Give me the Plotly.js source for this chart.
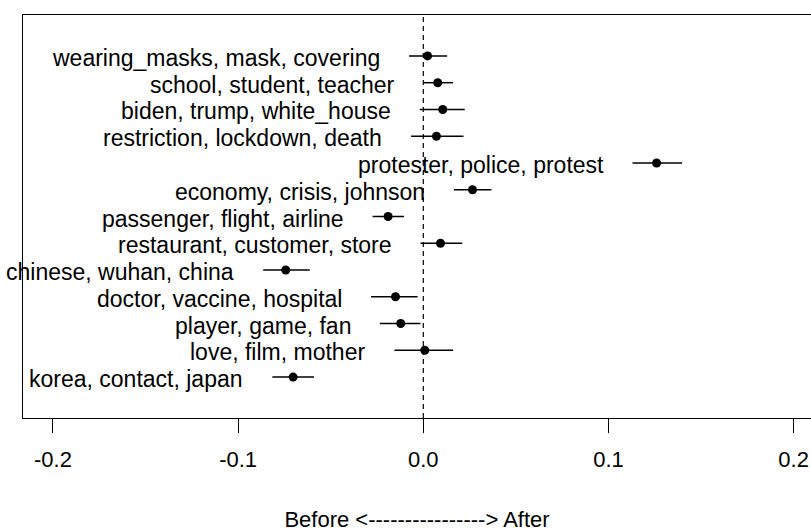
<!DOCTYPE html>
<html>
<head>
<meta charset="utf-8">
<script src="https://cdn.plot.ly/plotly-3.0.1.min.js"></script>
<style>html,body{margin:0;padding:0;background:#fff;}#chart{width:811px;height:532px;}</style>
</head>
<body>
<div id="chart"></div>
<script>
const topics = [
  "wearing_masks, mask, covering",
  "school, student, teacher",
  "biden, trump, white_house",
  "restriction, lockdown, death",
  "protester, police, protest",
  "economy, crisis, johnson",
  "passenger, flight, airline",
  "restaurant, customer, store",
  "chinese, wuhan, china",
  "doctor, vaccine, hospital",
  "player, game, fan",
  "love, film, mother",
  "korea, contact, japan"
];
const estimate = [0.0023, 0.0078, 0.0105, 0.0071, 0.1260, 0.0266, -0.0190, 0.0093, -0.0743, -0.0150, -0.0122, 0.0008, -0.0703];
const ciLower  = [-0.0077, 0.0003, -0.0019, -0.0066, 0.1130, 0.0165, -0.0274, -0.0015, -0.0865, -0.0282, -0.0235, -0.0156, -0.0815];
const ciUpper  = [0.0129, 0.0161, 0.0224, 0.0217, 0.1398, 0.0368, -0.0104, 0.0210, -0.0613, -0.0031, -0.0015, 0.0161, -0.0590];
const tickVals = [-0.2, -0.1, 0.0, 0.1, 0.2];
const tickText = ["-0.2", "-0.1", "0.0", "0.1", "0.2"];
const xLabel = "Before <----------------> After";

const FONT = "Liberation Sans, Arial, sans-serif";

const trace = {
  type: "scatter",
  mode: "markers",
  x: estimate,
  y: topics,
  marker: {color: "#000", size: 9},
  error_x: {
    type: "data",
    symmetric: false,
    array: estimate.map((v, i) => ciUpper[i] - v),
    arrayminus: estimate.map((v, i) => v - ciLower[i]),
    color: "#000",
    thickness: 1.5,
    width: 0
  },
  hoverinfo: "x+y",
  cliponaxis: false
};

const annotations = topics.map((t, i) => ({
  x: ciLower[i],
  y: t,
  xref: "x",
  yref: "y",
  text: t,
  showarrow: false,
  xanchor: "right",
  yanchor: "middle",
  xshift: -27,
  yshift: -2,
  font: {family: FONT, size: 23, color: "#000"}
}));

const layout = {
  width: 811,
  height: 532,
  margin: {l: 23, r: 0, t: 15, b: 114},
  paper_bgcolor: "#fff",
  plot_bgcolor: "#fff",
  showlegend: false,
  font: {family: FONT, size: 22, color: "#000"},
  xaxis: {
    range: [-0.2162, 0.2094],
    tickvals: tickVals,
    ticktext: tickText,
    ticks: "outside",
    ticklen: 14,
    tickwidth: 1,
    tickcolor: "#000",
    showline: true,
    linecolor: "#000",
    linewidth: 1,
    mirror: true,
    showgrid: false,
    zeroline: false,
    tickfont: {family: FONT, size: 22, color: "#000"},
    ticklabelstandoff: 8,
    title: {text: xLabel, font: {family: FONT, size: 22, color: "#000"}, standoff: 41}
  },
  yaxis: {
    type: "category",
    categoryorder: "array",
    categoryarray: topics,
    range: [13.53, -1.53],
    showticklabels: false,
    ticks: "",
    showline: true,
    linecolor: "#000",
    linewidth: 1,
    mirror: false,
    showgrid: false,
    zeroline: false
  },
  shapes: [{
    type: "line",
    xref: "x",
    yref: "paper",
    x0: 0, x1: 0, y0: 0, y1: 1,
    line: {color: "#000", width: 1.2, dash: "5px,4px"}
  }],
  annotations: annotations
};

Plotly.newPlot("chart", [trace], layout, {displayModeBar: false, staticPlot: true});
</script>
</body>
</html>
